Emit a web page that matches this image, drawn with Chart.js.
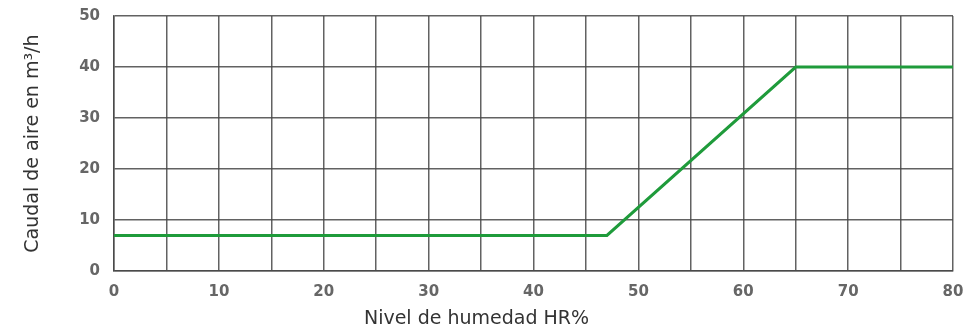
<!DOCTYPE html>
<html>
<head>
<meta charset="utf-8">
<script src="https://cdn.jsdelivr.net/npm/chart.js@4"></script>
<style>
  html, body { margin: 0; padding: 0; background: #fff; }
  #wrap { width: 967px; height: 336px; position: relative; }
</style>
</head>
<body>
<div id="wrap"><canvas id="chart"></canvas></div>
<script>
// Airflow vs relative humidity curve
const humidity = [0, 47, 65, 80];
const airflow = [7, 7, 40, 40];
const xTitle = 'Nivel de humedad HR%';
const yTitle = 'Caudal de aire en m³/h';

const gridColor = 'rgba(70,70,70,0.85)';
const tickFont = { family: 'DejaVu Sans, sans-serif', size: 15, weight: 'bold' };
const titleFont = { family: 'DejaVu Sans, sans-serif', size: 19, weight: 'normal' };

const points = humidity.map((x, i) => ({ x, y: airflow[i] }));

new Chart(document.getElementById('chart').getContext('2d'), {
  type: 'scatter',
  data: {
    datasets: [{
      data: points,
      showLine: true,
      borderColor: '#1f9b3b',
      borderWidth: 3,
      pointRadius: 0,
      fill: false,
      tension: 0
    }]
  },
  options: {
    responsive: true,
    maintainAspectRatio: false,
    animation: false,
    layout: { padding: { top: 16, right: 14, left: 0, bottom: 0 } },
    plugins: {
      legend: { display: false },
      tooltip: { enabled: false },
      // x-axis title is centred on the whole figure in the original
      title: {
        display: true,
        position: 'bottom',
        text: xTitle,
        color: '#333',
        font: titleFont,
        padding: { top: 0, bottom: 6 }
      }
    },
    scales: {
      x: {
        type: 'linear',
        min: 0, max: 80,
        ticks: {
          stepSize: 5,
          padding: 12,
          color: '#666',
          font: tickFont,
          maxRotation: 0,
          autoSkip: false,
          callback: v => (v % 10 === 0 ? v : '')
        },
        grid: { color: gridColor, lineWidth: 1.5, drawTicks: false },
        border: { color: gridColor, width: 1.5 },
        afterFit: s => { s.height = 36; s.paddingLeft = 0; s.paddingRight = 0; }
      },
      y: {
        min: 0, max: 50,
        ticks: { stepSize: 10, padding: 14, color: '#666', font: tickFont },
        grid: { color: gridColor, lineWidth: 1.5, drawTicks: false },
        border: { color: gridColor, width: 1.5 },
        title: { display: true, text: yTitle, color: '#333', font: titleFont, padding: { top: 22, bottom: 0 } },
        afterFit: s => { s.width = 114; s.paddingTop = 0; s.paddingBottom = 0; }
      }
    }
  }
});
</script>
</body>
</html>
